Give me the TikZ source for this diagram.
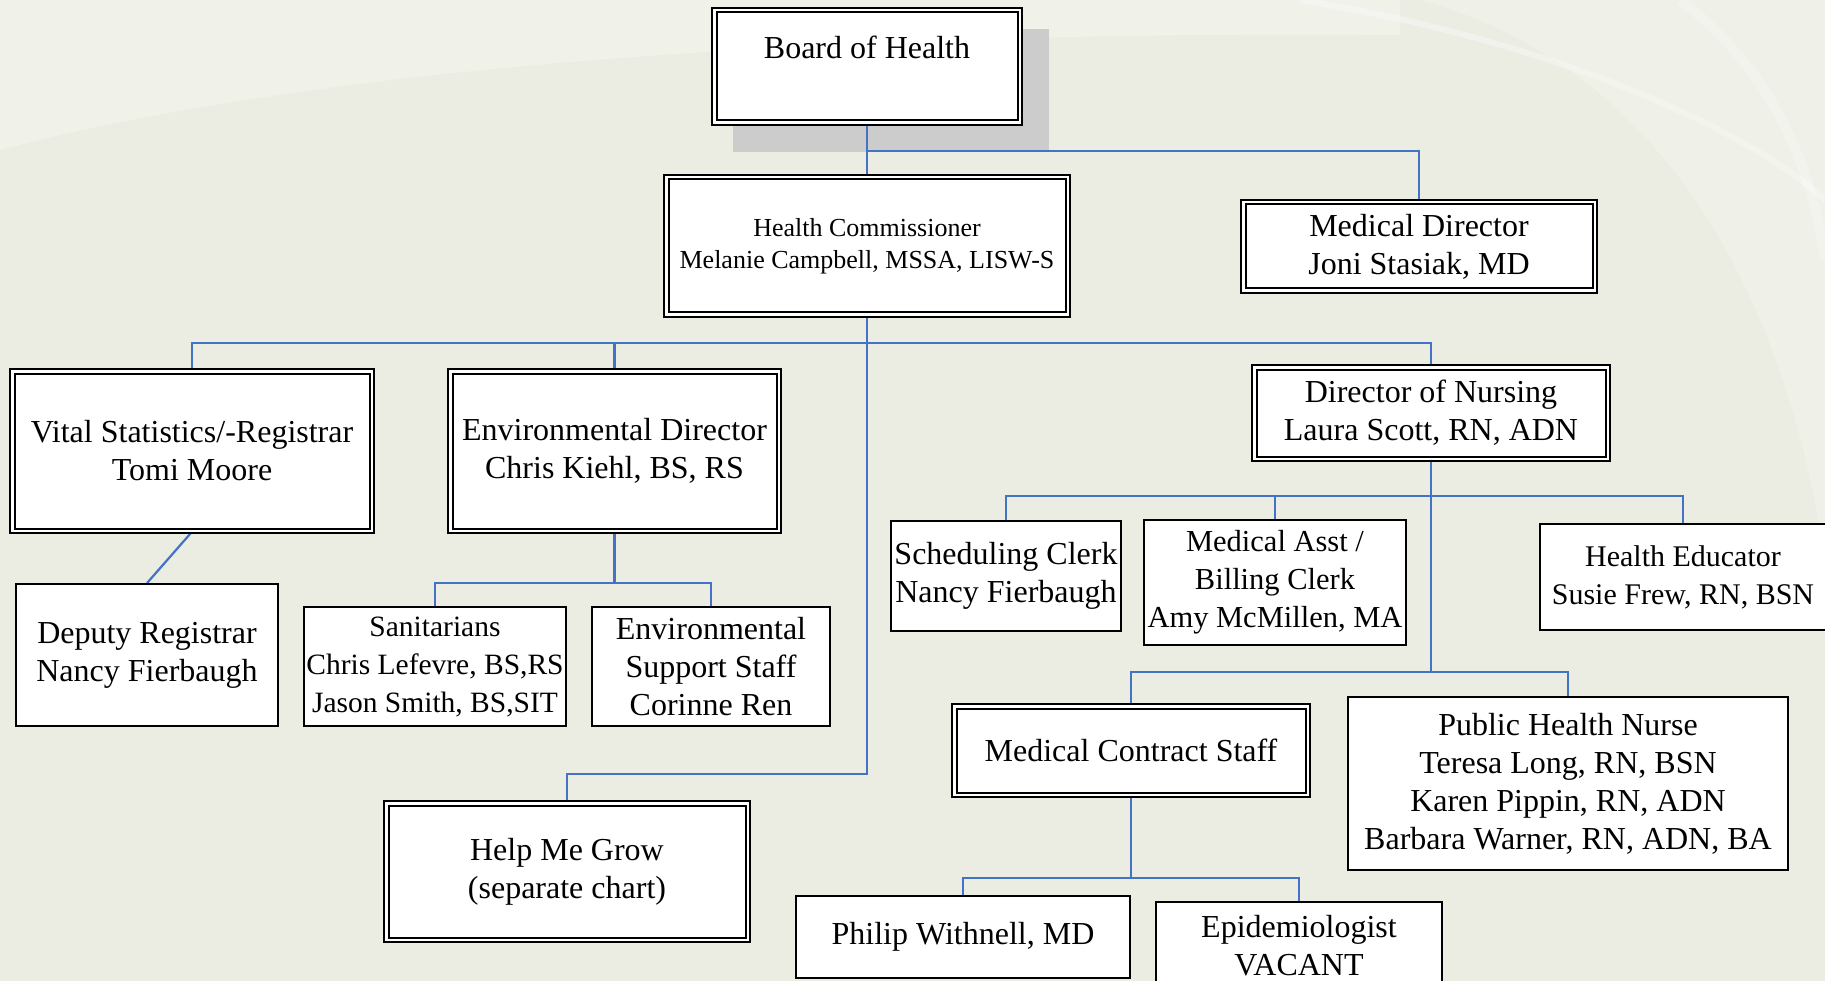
\documentclass[tikz,border=0pt]{standalone}
\usepackage{fontspec}
\setmainfont{Liberation Serif}
\definecolor{linkblue}{RGB}{68,114,196}
\definecolor{bgcol}{RGB}{235,237,227}
\definecolor{bglight}{RGB}{240,242,234}
\definecolor{shadowgrey}{RGB}{204,204,204}
\pgfdeclarelayer{bg}
\pgfsetlayers{bg,main}
\tikzstyle{dblbox} = [rectangle, draw=black, line width=2pt, double=white, double distance=2.5pt, fill=white, align=center, inner sep=2pt, font=\fontsize{32}{38}\selectfont]
\tikzstyle{plainbox} = [rectangle, draw=black, line width=1.8pt, fill=white, align=center, inner sep=2pt, font=\fontsize{32}{38}\selectfont]
\tikzstyle{link} = [draw=linkblue, line width=2.2pt]

\begin{document}
\begin{tikzpicture}[x=1pt, y=-1pt]
    \useasboundingbox (0,0) rectangle (1825,981);

    % top of the chart
    \node (boh) [dblbox, minimum width=305.5pt, minimum height=112.5pt] at (867,66.5) {Board of Health\\\mbox{}};
    \node (hc) [dblbox, minimum width=401.5pt, minimum height=137.5pt, font=\fontsize{26}{32}\selectfont] at (867,246) {Health Commissioner\\Melanie Campbell, MSSA, LISW-S};
    \node (md) [dblbox, minimum width=351.5pt, minimum height=88.5pt] at (1419,246.5) {Medical Director\\Joni Stasiak, MD};

    % second row
    \node (vs) [dblbox, minimum width=359.5pt, minimum height=159.5pt] at (192,451) {Vital Statistics/-Registrar\\Tomi Moore};
    \node (env) [dblbox, minimum width=328.5pt, minimum height=159.5pt] at (614.5,451) {Environmental Director\\Chris Kiehl, BS, RS};
    \node (don) [dblbox, minimum width=353.5pt, minimum height=91.5pt] at (1431,413) {Director of Nursing\\Laura Scott, RN, ADN};

    \node (dr) [plainbox, minimum width=262pt, minimum height=142pt] at (147,655) {Deputy Registrar\\Nancy Fierbaugh};
    \node (san) [plainbox, minimum width=262pt, minimum height=119pt, font=\fontsize{29.5}{38}\selectfont] at (435,666.5) {Sanitarians\\Chris Lefevre, BS,RS\\Jason Smith, BS,SIT};
    \node (ess) [plainbox, minimum width=238pt, minimum height=119pt] at (711,666.5) {Environmental\\Support Staff\\Corinne Ren};
    \node (hmg) [dblbox, minimum width=361.5pt, minimum height=136.5pt] at (567,871.5) {Help Me Grow\\(separate chart)};

    % nursing
    \node (sched) [plainbox, minimum width=230pt, minimum height=110pt] at (1006,576) {Scheduling Clerk\\Nancy Fierbaugh};
    \node (ma) [plainbox, minimum width=262pt, minimum height=125pt, font=\fontsize{30.5}{38}\selectfont] at (1275,582.5) {Medical Asst /\\Billing Clerk\\Amy McMillen, MA};
    \node (he) [plainbox, minimum width=286pt, minimum height=106pt, font=\fontsize{30}{38}\selectfont] at (1683,577) {Health Educator\\Susie Frew, RN, BSN};
    \node (mcs) [dblbox, minimum width=353.5pt, minimum height=88.5pt] at (1131,750.5) {Medical Contract Staff};
    \node (phn) [plainbox, minimum width=440pt, minimum height=173pt] at (1568,783.5) {Public Health Nurse\\Teresa Long, RN, BSN\\Karen Pippin, RN, ADN\\Barbara Warner, RN, ADN, BA};
    \node (pw) [plainbox, minimum width=334pt, minimum height=82pt] at (963,937) {Philip Withnell, MD};
    \node (epi) [plainbox, minimum width=286pt, minimum height=88pt] at (1299,946) {Epidemiologist\\VACANT};

    % bus lines
    \coordinate (bus0) at (0,151);
    \coordinate (bus1) at (0,343);
    \coordinate (bus2) at (0,774);
    \coordinate (bus3) at (0,583);
    \coordinate (bus4) at (0,496);
    \coordinate (bus5) at (0,672);
    \coordinate (bus6) at (0,878);

    \begin{pgfonlayer}{bg}
        \fill [bgcol] (0,0) rectangle (1825,981);
        \fill [bglight] (0,0) -- (0,150) .. controls (300,70) and (800,30) .. (1400,35) -- (1400,0) -- cycle;
        \fill [white, opacity=0.2] (1420,0) .. controls (1640,60) and (1780,260) .. (1825,560) -- (1825,0) -- cycle;
        \draw [white, opacity=0.3, line width=6pt] (1300,0) .. controls (1550,40) and (1750,130) .. (1825,200);
        \draw [white, opacity=0.25, line width=10pt] (1680,0) .. controls (1760,60) and (1810,150) .. (1825,260);
        \fill [shadowgrey] ([shift={(20,20)}]boh.north west) rectangle ([shift={(28,28)}]boh.south east);

        \draw [link] (boh) -- (hc);
        \draw [link] (boh.south) -- (boh.south |- bus0) -| (md.north);
        \draw [link] (hc.south) -- (hc.south |- bus1) -| (vs.north);
        \draw [link] (hc.south |- bus1) -| (env.north);
        \draw [link] (hc.south |- bus1) -| (don.north);
        \draw [link] (hc.south) -- (hc.south |- bus2) -| (hmg.north);
        \draw [link] (vs.south) -- (dr.north);
        \draw [link] (env.south) -- (env.south |- bus3) -| (san.north);
        \draw [link] (env.south |- bus3) -| (ess.north);
        \draw [link] (don.south) -- (don.south |- bus4) -| (sched.north);
        \draw [link] (don.south |- bus4) -| (ma.north);
        \draw [link] (don.south |- bus4) -| (he.north);
        \draw [link] (don.south) -- (don.south |- bus5) -| (mcs.north);
        \draw [link] (don.south |- bus5) -| (phn.north);
        \draw [link] (mcs.south) -- (mcs.south |- bus6) -| (pw.north);
        \draw [link] (mcs.south |- bus6) -| (epi.north);
    \end{pgfonlayer}
\end{tikzpicture}
\end{document}
